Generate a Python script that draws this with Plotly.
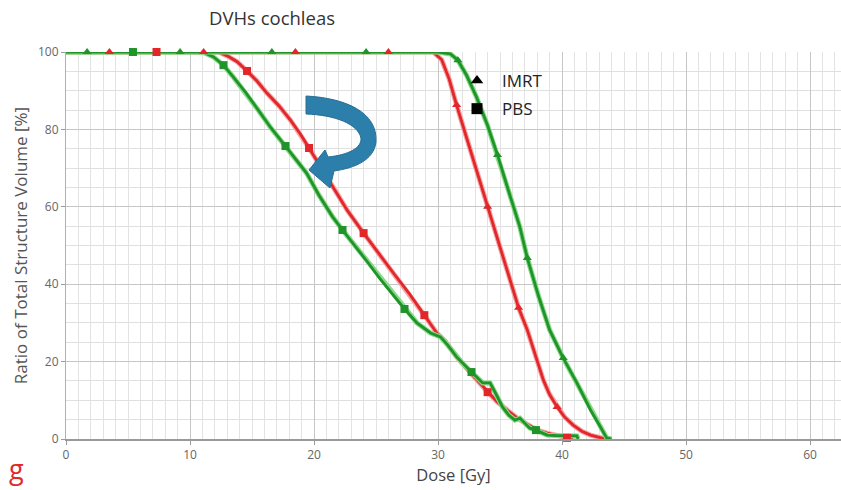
import plotly.graph_objects as go

# ---------------- data ----------------
green_imrt_x = [0, 30.0, 31.0, 31.6, 32.3, 33.1, 34.0, 34.8, 35.7, 36.6, 37.2, 38.1, 39.0, 40.1, 41.2, 42.3, 43.1, 43.6, 44.0]
green_imrt_y = [100, 100, 99.5, 97.9, 94, 88.4, 81, 73.4, 64, 54.8, 46.8, 37, 28.2, 20.9, 14.5, 7.5, 3.1, 0.3, 0]

red_imrt_x = [0, 29.6, 30.3, 30.9, 31.5, 32.1, 32.7, 33.4, 34.0, 34.7, 35.5, 36.5, 37.2, 37.9, 38.5, 39.0, 39.6, 40.2, 40.9, 41.6, 42.3, 43.0, 43.5]
red_imrt_y = [100, 100, 98, 93, 86.3, 80, 73.4, 66.5, 60, 52.5, 43.8, 33.9, 28.2, 21.5, 15.2, 11.5, 8.3, 5.7, 3.6, 2.0, 1.0, 0.4, 0.0]

green_pbs_x = [0, 11.0, 11.9, 12.7, 13.5, 14.5, 15.5, 16.5, 17.7, 18.6, 19.4, 20.4, 21.5, 22.3, 23.3, 24.3, 25.3, 26.3, 27.3, 28.3, 29.4, 30.2, 30.8, 31.5, 32.0, 32.7, 33.6, 34.2, 34.6, 35.2, 35.7, 36.2, 36.6, 37.4, 37.9, 38.8, 39.5, 40.5, 41.2, 41.3]
green_pbs_y = [100, 100, 98.7, 96.6, 93.5, 89.5, 85, 80.5, 75.7, 72, 68.7, 63, 57.4, 54, 50, 45.8, 41.5, 37.5, 33.6, 30, 27.4, 26.4, 24.2, 21.2, 19.5, 17.3, 14.5, 14.5, 12.1, 8.3, 6.2, 4.9, 5.4, 2.8, 2.3, 1.0, 0.9, 0.9, 0.8, 0]

red_pbs_x = [0, 12.3, 13.0, 13.8, 14.6, 15.4, 16.2, 17.2, 18.1, 18.9, 19.6, 20.5, 21.5, 22.7, 24.0, 25.2, 26.4, 27.7, 28.9, 29.9, 30.6, 31.5, 32.3, 33.2, 34.0, 34.8, 35.6, 36.4, 37.2, 38.0, 38.8, 39.6, 40.4, 40.9]
red_pbs_y = [100, 100, 99, 97.5, 95.1, 92.5, 89.4, 86, 82.4, 78.8, 75.2, 70.5, 65.1, 59, 53.2, 48, 42.9, 37.5, 32, 27.4, 25.2, 21.2, 18.2, 15, 12.1, 9.5, 7.4, 5.4, 3.8, 2.3, 1.5, 0.8, 0.3, 0]

# marker positions along the curves
green_imrt_mx = [1.7, 9.2, 16.6, 24.2, 31.6, 34.8, 37.2, 40.1]
green_imrt_my = [100, 100, 100, 100, 97.9, 73.4, 46.8, 20.9]
red_imrt_mx = [3.5, 11.1, 18.5, 26.0, 31.5, 34.0, 36.5, 39.6]
red_imrt_my = [100, 100, 100, 100, 86.3, 60, 33.9, 8.3]
green_pbs_mx = [5.4, 12.7, 17.7, 22.3, 27.3, 32.7, 37.9]
green_pbs_my = [100, 96.6, 75.7, 54, 33.6, 17.3, 2.3]
red_pbs_mx = [7.3, 14.6, 19.6, 24.0, 28.9, 34.0, 40.4]
red_pbs_my = [100, 95.1, 75.2, 53.2, 32, 12.1, 0.3]

x_ticks = [0, 10, 20, 30, 40, 50, 60]
y_ticks = [0, 20, 40, 60, 80, 100]
legend_names = ["IMRT", "PBS"]

# ---------------- styling ----------------
GREEN = "#1f9428"
GREEN_HALO = "#8ad98a"
RED = "#e2262a"
RED_HALO = "#f3a5a5"
FONT = "Open Sans"

fig = go.Figure()

curves = [
    (red_imrt_x, red_imrt_y, RED, RED_HALO),
    (red_pbs_x, red_pbs_y, RED, RED_HALO),
    (green_pbs_x, green_pbs_y, GREEN, GREEN_HALO),
    (green_imrt_x, green_imrt_y, GREEN, GREEN_HALO),
]
for xs, ys, c, h in curves:
    fig.add_trace(go.Scatter(x=xs, y=ys, mode="lines", line=dict(color=h, width=5),
                             showlegend=False, hoverinfo="skip", cliponaxis=False))
    fig.add_trace(go.Scatter(x=xs, y=ys, mode="lines", line=dict(color=c, width=2.8),
                             showlegend=False, cliponaxis=False))

markers = [
    (red_imrt_mx, red_imrt_my, RED, "triangle-up"),
    (green_imrt_mx, green_imrt_my, GREEN, "triangle-up"),
    (red_pbs_mx, red_pbs_my, RED, "square"),
    (green_pbs_mx, green_pbs_my, GREEN, "square"),
]
for xs, ys, c, s in markers:
    fig.add_trace(go.Scatter(x=xs, y=ys, mode="markers",
                             marker=dict(color=c, symbol=s, size=8),
                             showlegend=False, cliponaxis=False))

# legend entries
for name, sym in zip(legend_names, ["triangle-up", "square"]):
    fig.add_trace(go.Scatter(x=[None], y=[None], mode="markers", name=name, legendgroup=name,
                             marker=dict(color="black", symbol=sym, size=11)))

# ---------------- decorative curved arrow (pixel -> paper) ----------------
L, T, R, B = 66, 52, 841, 439
def px(x, y):
    return f"{(x - L) / (R - L):.4f},{(B - y) / (B - T):.4f}"

arrow_path = (
    f"M {px(306, 96)} "
    f"C {px(345, 98)} {px(378, 112)} {px(376, 142)} "
    f"C {px(374, 160)} {px(355, 168)} {px(334, 171)} "
    f"L {px(330, 188)} L {px(309, 170)} L {px(325, 150)} L {px(328, 157)} "
    f"C {px(348, 155)} {px(362, 148)} {px(361, 138)} "
    f"C {px(358, 124)} {px(335, 115)} {px(306, 114)} Z"
)
shapes = [dict(type="path", path=arrow_path, xref="paper", yref="paper",
               fillcolor="#2d7fab", line=dict(color="#256d93", width=1), layer="above")]

fig.update_layout(
    width=841, height=490,
    margin=dict(l=L, r=841 - R, t=T, b=490 - B),
    paper_bgcolor="white",
    plot_bgcolor="white",
    font=dict(family=FONT, color="#555555", size=11),
    title=dict(text="DVHs cochleas", x=272 / 841, xanchor="center", y=1 - 19 / 490, yanchor="middle",
               font=dict(family=FONT, size=18.5, color="#333333")),
    showlegend=True,
    legend=dict(x=(452 - L) / (R - L), y=(B - 63) / (B - T), xanchor="left", yanchor="top",
                bgcolor="rgba(0,0,0,0)", font=dict(family=FONT, size=17, color="#222222"),
                itemwidth=40, tracegroupgap=3, traceorder="grouped"),
    shapes=shapes,
    annotations=[dict(text="g", xref="paper", yref="paper", x=-50 / (R - L), y=-(469 - B) / (B - T),
                      xanchor="center", yanchor="middle", showarrow=False,
                      font=dict(family=FONT, size=27, color="#e02a2a"))],
)

fig.update_xaxes(
    range=[0, (R - L) / 12.4], tickvals=x_ticks, ticktext=[str(v) for v in x_ticks],
    showgrid=True, gridcolor="#c6c6c6", gridwidth=1,
    minor=dict(dtick=1, showgrid=True, gridcolor="#e3e3e3", gridwidth=1),
    showline=True, linecolor="#9a9a9a", linewidth=1.5, zeroline=False,
    ticks="outside", ticklen=4, tickcolor="#9a9a9a",
    title=dict(text="Dose [Gy]", font=dict(family=FONT, size=16.5, color="#444444"), standoff=0),
    tickfont=dict(size=12, color="#666666"),
)
fig.update_yaxes(
    range=[0, 100], tickvals=y_ticks, ticktext=[str(v) for v in y_ticks],
    showgrid=True, gridcolor="#c6c6c6", gridwidth=1,
    minor=dict(dtick=5, showgrid=True, gridcolor="#e0e0e0", gridwidth=1),
    showline=True, linecolor="#b0b0b0", linewidth=1, zeroline=False,
    ticks="outside", ticklen=4, tickcolor="#9a9a9a",
    title=dict(text="Ratio of Total Structure Volume [%]", font=dict(family=FONT, size=17, color="#555555"), standoff=6),
    tickfont=dict(size=12, color="#666666"),
)

fig.write_html("out.html")
